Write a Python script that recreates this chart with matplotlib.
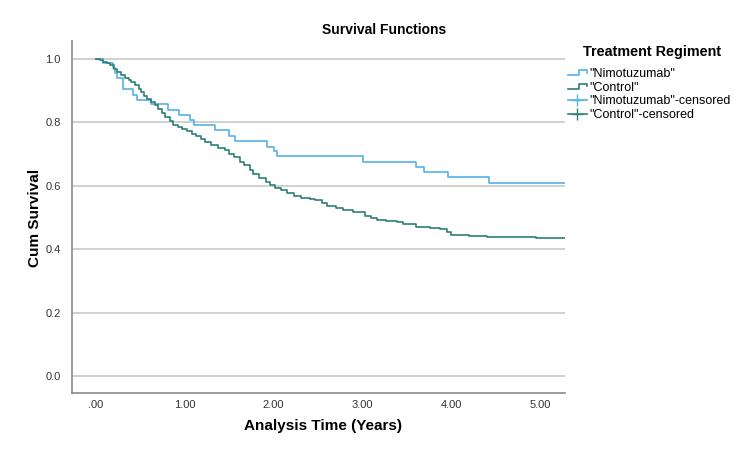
"""
plot.py
Kaplan-Meier survival functions by treatment regiment.
"""

import matplotlib
matplotlib.use("Agg")
import matplotlib.pyplot as plt
from matplotlib.legend_handler import HandlerBase
from matplotlib.lines import Line2D

# step times (years) and survival after each step
nimo_time = [0.0, 0.08, 0.19, 0.21, 0.24, 0.31, 0.42, 0.46, 0.62, 0.81, 0.94, 1.06,
             1.10, 1.34, 1.50, 1.57, 1.93, 2.00, 2.04, 3.01, 3.60, 3.70, 3.97, 4.43, 5.30]
nimo_surv = [1.0, 0.986, 0.971, 0.955, 0.939, 0.904, 0.886, 0.871, 0.857, 0.839, 0.823, 0.808,
             0.790, 0.775, 0.758, 0.742, 0.723, 0.708, 0.692, 0.674, 0.658, 0.642, 0.626, 0.608, 0.608]

ctrl_time = [0.0, 0.04, 0.08, 0.12, 0.16, 0.20, 0.24, 0.28, 0.33, 0.37, 0.40, 0.44, 0.48,
             0.51, 0.54, 0.58, 0.62, 0.66, 0.70, 0.74, 0.78, 0.83, 0.87, 0.92, 0.97,
             1.02, 1.08, 1.13, 1.18, 1.23, 1.29, 1.37, 1.45, 1.50, 1.56, 1.62, 1.67,
             1.73, 1.77, 1.84, 1.91, 1.96, 2.02, 2.08, 2.15, 2.23, 2.31, 2.41, 2.47,
             2.55, 2.60, 2.70, 2.78, 2.90, 3.03, 3.10, 3.17, 3.27, 3.39, 3.46, 3.60,
             3.72, 3.76, 3.87, 3.95, 4.00, 4.20, 4.40, 4.96, 5.30]
ctrl_surv = [1.0, 0.995, 0.99, 0.985, 0.979, 0.969, 0.958, 0.949, 0.940, 0.933, 0.926, 0.916, 0.905,
             0.895, 0.884, 0.873, 0.863, 0.853, 0.842, 0.829, 0.816, 0.803, 0.790, 0.784, 0.779,
             0.771, 0.764, 0.756, 0.748, 0.738, 0.727, 0.719, 0.711, 0.700, 0.689, 0.676, 0.664,
             0.650, 0.638, 0.624, 0.611, 0.602, 0.593, 0.585, 0.577, 0.568, 0.561, 0.558, 0.554,
             0.545, 0.536, 0.530, 0.524, 0.516, 0.504, 0.498, 0.493, 0.489, 0.485, 0.480, 0.471,
             0.469, 0.466, 0.462, 0.455, 0.443, 0.441, 0.437, 0.434, 0.434]

group_labels = ['"Nimotuzumab"', '"Control"']
censor_labels = ['"Nimotuzumab"-censored', '"Control"-censored']
y_ticks = [0.0, 0.2, 0.4, 0.6, 0.8, 1.0]
y_ticklabels = ["0.0", "0.2", "0.4", "0.6", "0.8", "1.0"]
x_ticks = [0, 1, 2, 3, 4, 5]
x_ticklabels = [".00", "1.00", "2.00", "3.00", "4.00", "5.00"]

BLUE = "#55b2ea"
TEAL = "#2f7f78"


class StepHandler(HandlerBase):
    # small step-shaped legend icon, like SPSS
    def create_artists(self, legend, orig_handle, xdescent, ydescent,
                       width, height, fontsize, trans):
        x0, x1 = -xdescent, -xdescent + width
        xs = [x0, x0 + width * 0.6, x0 + width * 0.6, x1, x1]
        ys = [0.2 * height, 0.2 * height, 0.8 * height, 0.8 * height, 0.5 * height]
        line = Line2D(xs, ys, color=orig_handle.get_color(), linewidth=1.2,
                      transform=trans)
        return [line]


plt.rcParams["font.family"] = ["Liberation Sans", "DejaVu Sans"]

fig = plt.figure(figsize=(7.5, 4.5), dpi=100)
ax = fig.add_axes([0.096, 0.127, 0.657, 0.782])

l1, = ax.plot(nimo_time, nimo_surv, drawstyle="steps-post", color=BLUE, linewidth=1.2)
l2, = ax.plot(ctrl_time, ctrl_surv, drawstyle="steps-post", color=TEAL, linewidth=1.2)

ax.set_xlim(-0.27, 5.28)
ax.set_ylim(-0.053, 1.056)
ax.set_yticks(y_ticks)
ax.set_yticklabels(y_ticklabels)
ax.set_xticks(x_ticks)
ax.set_xticklabels(x_ticklabels)
ax.tick_params(axis="both", length=0, labelsize=8, colors="#333333")
ax.tick_params(axis="x", pad=5)
ax.tick_params(axis="y", pad=8)
ax.yaxis.grid(True, color="#c8c8c8", linewidth=1.2)
ax.set_axisbelow(True)
for side in ["top", "right"]:
    ax.spines[side].set_visible(False)
for side in ["left", "bottom"]:
    ax.spines[side].set_color("#8a8a8a")
    ax.spines[side].set_linewidth(1.2)

fig.text(0.512, 0.933, "Survival Functions", ha="center", va="center",
         fontsize=10, fontweight="bold")
fig.text(0.047, 0.516, "Cum Survival", ha="center", va="center", rotation=90,
         fontsize=11, fontweight="bold")
fig.text(0.43, 0.054, "Analysis Time (Years)", ha="center", va="center",
         fontsize=11, fontweight="bold")

# legend title is placed on its own, indented like the SPSS output
fig.text(0.777, 0.884, "Treatment Regiment", ha="left", va="center",
         fontsize=10.4, fontweight="bold")

c1 = Line2D([], [], color=BLUE, marker="+", markersize=9, linewidth=1.2)
c2 = Line2D([], [], color=TEAL, marker="+", markersize=9, linewidth=1.2)
leg = fig.legend([l1, l2, c1, c2], group_labels + censor_labels,
                 handler_map={l1: StepHandler(), l2: StepHandler()},
                 loc="upper left", bbox_to_anchor=(0.757, 0.849), frameon=False,
                 fontsize=9, handlelength=1.55, handletextpad=0.15,
                 labelspacing=0.14, borderaxespad=0, borderpad=0)

fig.savefig("out.png", dpi=100)
